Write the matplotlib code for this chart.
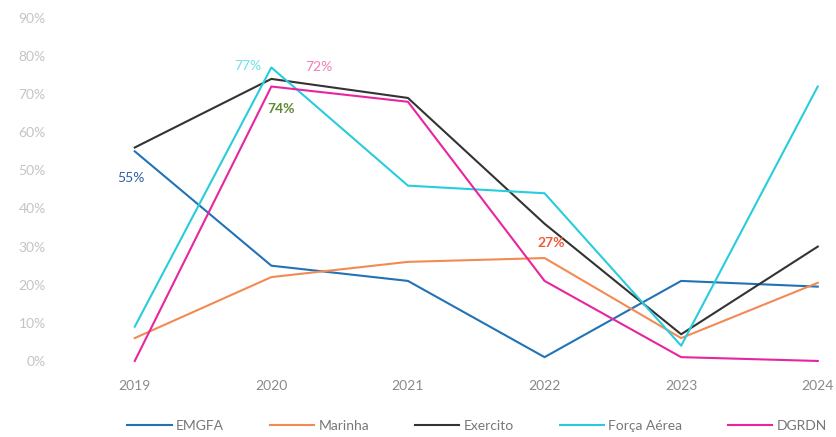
import numpy as np
import matplotlib.pyplot as plt
from matplotlib.ticker import PercentFormatter

plt.rcParams['font.family'] = ['Lato', 'DejaVu Sans']

anos = [2019, 2020, 2021, 2022, 2023, 2024]

# percentagens por ramo
emgfa = [55, 25, 21, 1, 21, 19.5]
marinha = [6, 22, 26, 27, 6, 20.5]
exercito = [56, 74, 69, 36, 7, 30]
forca_aerea = [9, 77, 46, 44, 4, 72]
dgrdn = [0, 72, 68, 21, 1, 0]

series = [
    ('EMGFA', emgfa, '#2272b6'),
    ('Marinha', marinha, '#f38a54'),
    ('Exercito', exercito, '#333333'),
    ('Força Aérea', forca_aerea, '#27cddc'),
    ('DGRDN', dgrdn, '#e8259f'),
]

fig = plt.figure(figsize=(8.37, 4.37), dpi=100)
ax = fig.add_axes([0.161, 0.174, 0.816, 0.785])

for nome, vals, cor in series:
    ax.plot(anos, vals, color=cor, lw=1.5, label=nome, clip_on=False)

# rótulos de valor
ax.text(2018.97, emgfa[0] - 7, '55%', color='#2d5fa8', fontsize=10,
        ha='center', va='center')
ax.text(2019.93, forca_aerea[1] + 0.5, '77%', color='#6fe0e6', fontsize=10,
        ha='right', va='center')
ax.text(2020.35, dgrdn[1] + 5, '72%', color='#f27bb8', fontsize=10,
        ha='center', va='center')
ax.text(2020.07, exercito[1] - 8, '74%', color='#5f8a34', fontsize=10,
        fontweight='bold', ha='center', va='center')
ax.text(2022.05, marinha[3] + 4, '27%', color='#ef5a3a', fontsize=10,
        fontweight='bold', ha='center', va='center')

ax.set_xlim(2019, 2024)
ax.set_ylim(0, 90)
ax.set_xticks(anos)
ax.set_yticks(np.arange(0, 91, 10))
ax.yaxis.set_major_formatter(PercentFormatter(decimals=0))
ax.tick_params(axis='both', length=0, labelsize=10)
ax.tick_params(axis='y', labelcolor='#c4c4c4', pad=64)
ax.tick_params(axis='x', labelcolor='#8a8a8a', pad=14)
for lbl in ax.get_yticklabels():
    lbl.set_horizontalalignment('right')
for s in ax.spines.values():
    s.set_visible(False)

fig.legend(loc='center', bbox_to_anchor=(0.57, 0.025), ncol=5, frameon=False,
           fontsize=10, labelcolor='#777777', handlelength=3.2,
           columnspacing=3.3, handletextpad=0.3)

fig.savefig('out.png', dpi=100)
